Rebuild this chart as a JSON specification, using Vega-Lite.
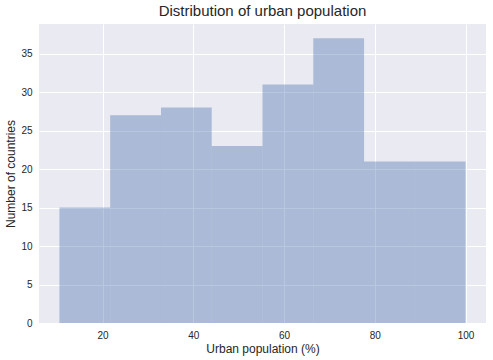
{
  "$schema": "https://vega.github.io/schema/vega-lite/v6.json",
  "autosize": {"type": "none"},
  "width": 447,
  "height": 299,
  "padding": {"left": 39, "top": 24, "right": 7, "bottom": 37},
  "background": "white",
  "title": {"text": "Distribution of urban population", "fontSize": 15, "font": "Liberation Sans", "fontWeight": "normal", "color": "#262626", "offset": 5},
  "data": {"values": [
    {"start": 10.5, "end": 21.69, "count": 15},
    {"start": 21.69, "end": 32.88, "count": 27},
    {"start": 32.88, "end": 44.06, "count": 28},
    {"start": 44.06, "end": 55.25, "count": 23},
    {"start": 55.25, "end": 66.44, "count": 31},
    {"start": 66.44, "end": 77.63, "count": 37},
    {"start": 77.63, "end": 88.81, "count": 21},
    {"start": 88.81, "end": 100, "count": 21}
  ]},
  "mark": {"type": "bar", "color": "#4C72B0", "opacity": 0.4, "binSpacing": 0, "stroke": null},
  "encoding": {
    "x": {"field": "start", "type": "quantitative", "scale": {"domain": [6.0, 104.5], "nice": false, "zero": false},
      "axis": {"title": "Urban population (%)", "values": [20, 40, 60, 80, 100], "titlePadding": 3}},
    "x2": {"field": "end"},
    "y": {"field": "count", "type": "quantitative", "scale": {"domain": [0, 38.85], "nice": false},
      "axis": {"title": "Number of countries", "values": [0, 5, 10, 15, 20, 25, 30, 35], "titlePadding": 3}},
    "y2": {"datum": 0}
  },
  "config": {
    "view": {"fill": "#EAEAF2", "stroke": null},
    "axis": {
      "grid": true, "gridColor": "white", "gridWidth": 1, "gridOpacity": 1,
      "domain": false, "ticks": false,
      "labelFont": "Liberation Sans", "labelFontSize": 10, "labelColor": "#262626", "labelPadding": 7,
      "titleFont": "Liberation Sans", "titleFontSize": 12, "titleFontWeight": "normal", "titleColor": "#262626"
    }
  }
}
